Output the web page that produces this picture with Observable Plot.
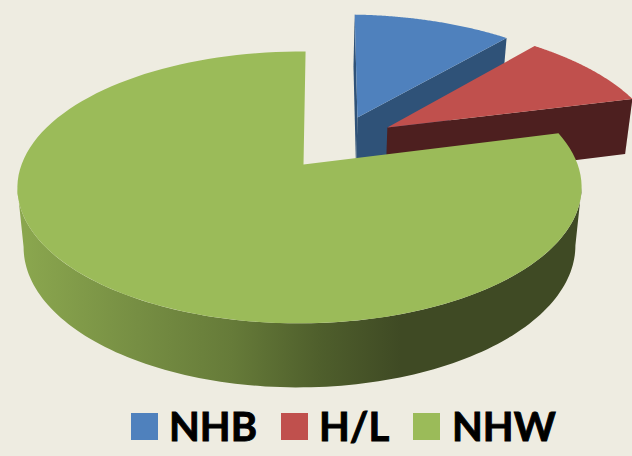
<!DOCTYPE html>
<html><head><meta charset="utf-8">
<script src="https://cdn.jsdelivr.net/npm/d3@7"></script>
<script src="https://cdn.jsdelivr.net/npm/@observablehq/plot@0.6"></script>
<style>
html,body{margin:0;padding:0;background:#eeece1;width:632px;height:456px;overflow:hidden}
svg{display:block;background:#eeece1}
#legend{position:relative;height:60px;font:bold 40px Lato,sans-serif;color:#000;-webkit-text-stroke:0.9px #000}
#legend i{position:absolute;top:17px;width:27px;height:27px}
#legend span{position:absolute;top:3px;line-height:54px;white-space:nowrap}
</style></head><body><div id="chart"></div><div id="legend"></div>
<script>
const categories = ["NHB", "H/L", "NHW"];
const shares = [11.05, 9.6, 79.35];
const colors = ["#4f81bd", "#c0504d", "#9bbb59"];
const darks = ["#2f5278", "#4d1f1f", "#5f7333"];

// pie geometry: circle in plane (X,Z), projected with perspective
const startAngle = 1.2, ox = 303, oy = 164, R = 278, Ry = 132, k = 0.169, m = 0.014;
const explode = [[0.207, -0.38, 1.03], [0.318, -0.295, 1.03], [0, 0, 1]];
const rad = d => d * Math.PI / 180;

function project(X, Z, bottom) {
  const s = 1 / (1 - k * Z + m * X);
  let x = ox + R * X * s, y = oy + Ry * Z * s;
  if (bottom) {
    x = 299 + (x - 299) * 0.978;
    y += 64 - (1.203 - s) * 29.7;
  }
  return {x, y};
}
const rim = (i, deg, bottom) => {
  const [ex, ez, r] = explode[i];
  return project(ex + r * Math.sin(rad(deg)), ez - r * Math.cos(rad(deg)), bottom);
};
const apex = (i, bottom) => project(explode[i][0], explode[i][1], bottom);

let acc = startAngle;
const spans = shares.map(v => { const a = acc; acc += v * 3.6; return [a, acc]; });
spans[2][1] -= 0.7; // the green rim closes just short of the blue start in this view
const arc = (i, a, b, bottom) => d3.range(0, 121).map(j => rim(i, a + (b - a) * j / 120, bottom));
const topFace = i => [apex(i), ...arc(i, spans[i][0], spans[i][1])];
const cut = (i, deg) => [apex(i), rim(i, deg), rim(i, deg, true), apex(i, true)];
const wall = (i, a, b) => [...arc(i, a, b), ...arc(i, a, b, true).reverse()];
const poly = (pts, fill) => Plot.line(pts, {x: "x", y: "y", fill, stroke: "none"});

const defs = () => {
  const svg = d3.create("svg:g");
  const g = svg.append("defs").append("linearGradient").attr("id", "greenWall")
    .attr("gradientUnits", "userSpaceOnUse").attr("x1", 25).attr("x2", 400).attr("y1", 0).attr("y2", 0);
  [[0, "#8aa64e"], [0.3, "#768e43"], [0.55, "#667b39"], [0.78, "#4f5f2c"], [1, "#3f4a24"]]
    .forEach(([o, c]) => g.append("stop").attr("offset", o).attr("stop-color", c));
  return svg.node();
};

const pie = Plot.plot({
  width: 632, height: 396, margin: 0,
  style: {background: "#eeece1"},
  x: {domain: [0, 632], range: [0, 632], axis: null},
  y: {domain: [0, 396], range: [0, 396], axis: null},
  marks: [
    defs,
    poly(cut(0, spans[0][0]), darks[0]),
    poly(cut(0, spans[0][1]), darks[0]),
    poly(topFace(0), colors[0]),
    poly(cut(1, spans[1][1]), darks[1]),
    poly(topFace(1), colors[1]),
    poly(wall(2, 99.7, 260.3), "url(#greenWall)"),
    poly(topFace(2), colors[2])
  ]
});
document.getElementById("chart").append(pie);

const legendPos = [[131, 169], [281, 319], [413, 452]];
const lg = document.getElementById("legend");
categories.forEach((c, i) => {
  const sw = document.createElement("i");
  sw.style.left = legendPos[i][0] + "px"; sw.style.background = colors[i];
  const t = document.createElement("span");
  t.style.left = legendPos[i][1] + "px"; t.textContent = c;
  lg.append(sw, t);
});
</script></body></html>
